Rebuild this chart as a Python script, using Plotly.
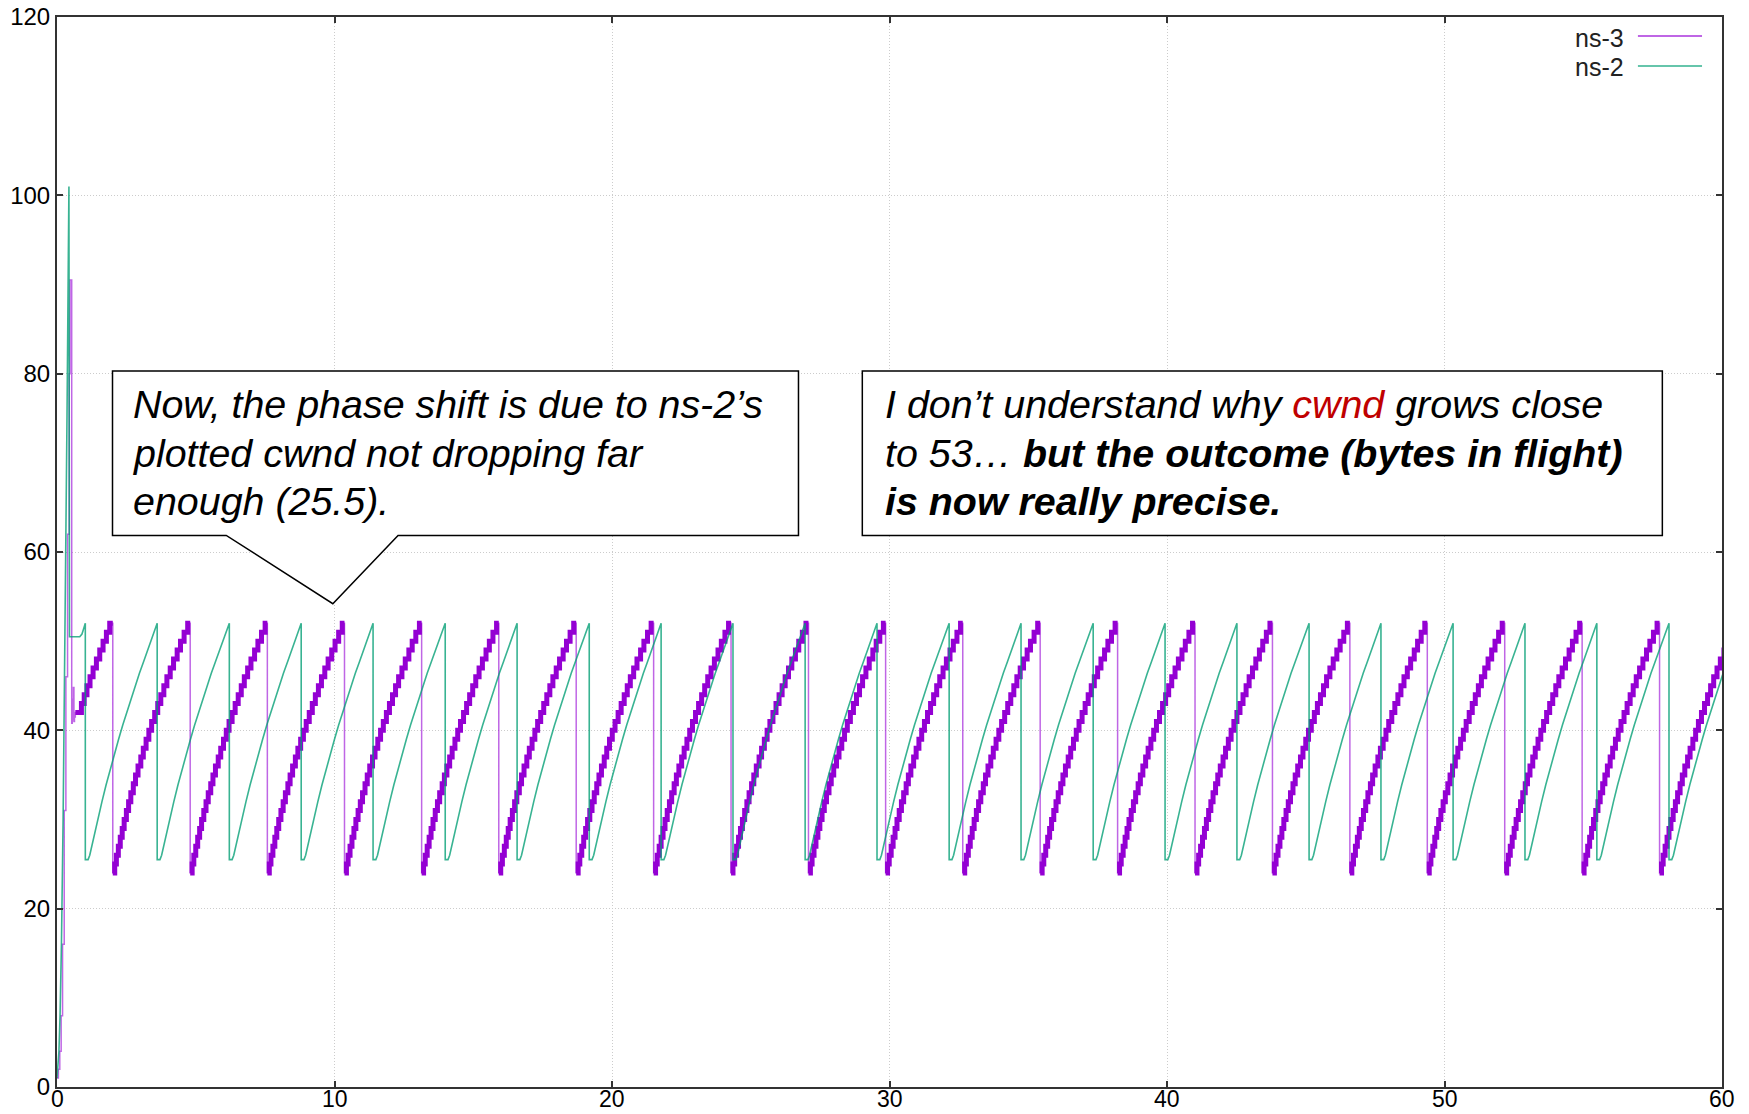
import plotly.graph_objects as go

# ---------------------------------------------------------------- axes
X_RANGE = [0, 60]
Y_RANGE = [0, 120]
X_TICKS = [0, 10, 20, 30, 40, 50, 60]
Y_TICKS = [0, 20, 40, 60, 80, 100, 120]

# ---------------------------------------------------------------- ns-3
# slow start, overshoot and first recovery (time s, cwnd segments)
ns3_start_t = [0.00, 0.05, 0.10, 0.15, 0.20, 0.26, 0.32, 0.38, 0.44, 0.47, 0.50,
               0.53, 0.55, 0.57, 0.59, 0.61, 0.63]
ns3_start_v = [1, 2, 4, 8, 16, 31, 46, 62, 80, 90.5, 90.5,
               40.8, 43.5, 41.2, 44.8, 41.0, 41.5]
# first congestion-avoidance staircase
ns3_first_t = [0.66, 0.88, 0.98, 1.08, 1.19, 1.30, 1.42, 1.54, 1.66, 1.78, 1.90]
ns3_first_v = [42, 43, 44, 45, 46, 47, 48, 49, 50, 51, 52]
# times at which cwnd is cut back
ns3_drop_t = [2.01, 4.80, 7.58, 10.36, 13.14, 15.92, 18.71, 21.50, 24.29, 27.08,
              29.86, 32.64, 35.43, 38.22, 41.01, 43.80, 46.59, 49.38, 52.17,
              54.96, 57.75]
# staircase after each cut: time since cut (s) and cwnd (segments)
ns3_step_t = [0.00, 0.07, 0.13, 0.20, 0.27, 0.34, 0.41, 0.49, 0.57, 0.65, 0.74,
              0.82, 0.91, 1.01, 1.10, 1.20, 1.30, 1.40, 1.51, 1.62, 1.73, 1.84,
              1.95, 2.07, 2.19, 2.32, 2.44, 2.57, 2.70]
ns3_step_v = [24, 25, 26, 27, 28, 29, 30, 31, 32, 33, 34, 35, 36, 37, 38, 39,
              40, 41, 42, 43, 44, 45, 46, 47, 48, 49, 50, 51, 52]
NS3_PEAK = 52

# ---------------------------------------------------------------- ns-2
ns2_start_t = [0.00, 0.03, 0.07, 0.11, 0.16, 0.22, 0.29, 0.36, 0.43, 0.45, 0.82,
               0.90, 0.96]
ns2_start_v = [1, 2, 4, 8, 16, 30, 50, 75, 101, 50.5, 50.5, 50.8, 51.4]
ns2_drop_t = [1.02, 3.61, 6.21, 8.80, 11.39, 13.99, 16.58, 19.18, 21.77, 24.36,
              26.96, 29.55, 32.15, 34.74, 37.34, 39.93, 42.52, 45.12, 47.71,
              50.31, 52.90, 55.49, 58.09]
ns2_ramp_t = [0.00, 0.10, 0.16, 0.30, 0.45, 0.60, 0.75, 0.90, 1.05, 1.20, 1.35,
              1.50, 1.65, 1.80, 1.95, 2.10, 2.25, 2.40, 2.55]
ns2_ramp_v = [25.5, 25.5, 26.0, 28.0, 30.0, 32.0, 33.9, 35.7, 37.4, 39.0, 40.6,
              42.1, 43.6, 45.0, 46.4, 47.7, 49.0, 50.3, 51.5]
NS2_PEAK = 52

# ---------------------------------------------------------------- build series
# ns-3 complete trace (thin) and staircase bodies (thick, broken at every cut)
ns3_t = list(ns3_start_t) + list(ns3_first_t)
ns3_v = list(ns3_start_v) + list(ns3_first_v)
body_t = list(ns3_first_t) + [ns3_drop_t[0], None]
body_v = list(ns3_first_v) + [NS3_PEAK, None]
for k, d in enumerate(ns3_drop_t):
    nxt = ns3_drop_t[k + 1] if k + 1 < len(ns3_drop_t) else None
    for dt, v in zip(ns3_step_t, ns3_step_v):
        t = d + dt
        if nxt is not None and t >= nxt:
            break
        ns3_t.append(t)
        ns3_v.append(v)
        body_t.append(t)
        body_v.append(v)
    if nxt is not None:
        body_t += [nxt, None]
        body_v += [NS3_PEAK, None]

# ns-2 trace
ns2_t = list(ns2_start_t)
ns2_v = list(ns2_start_v)
for d in ns2_drop_t:
    ns2_t.append(d)
    ns2_v.append(NS2_PEAK)
    for dt, v in zip(ns2_ramp_t, ns2_ramp_v):
        ns2_t.append(d + dt)
        ns2_v.append(v)

PURPLE = "#9400d3"
PURPLE_THIN = "rgba(148,0,211,0.6)"
GREEN = "rgba(0,158,115,0.78)"
FONT = "Liberation Sans"

fig = go.Figure()
fig.add_trace(go.Scatter(x=ns3_t, y=ns3_v, mode="lines", name="ns-3",
                         line=dict(color=PURPLE_THIN, width=1.5, shape="hv"),
                         showlegend=False, hoverinfo="skip"))
fig.add_trace(go.Scatter(x=body_t, y=body_v, mode="lines", name="ns-3",
                         line=dict(color=PURPLE, width=5, shape="hv"),
                         connectgaps=False, showlegend=False, hoverinfo="skip"))
fig.add_trace(go.Scatter(x=ns2_t, y=ns2_v, mode="lines", name="ns-2",
                         line=dict(color=GREEN, width=1.6),
                         showlegend=False, hoverinfo="skip"))

axis_style = dict(
    showgrid=True, gridcolor="#cccccc", gridwidth=1, griddash="1px,2px",
    showline=True, linecolor="#333333", linewidth=2, mirror="ticks",
    ticks="inside", ticklen=6, tickwidth=1.5, tickcolor="#333333",
    zeroline=False, automargin=False,
    tickfont=dict(family=FONT, size=24, color="#000000"),
)
# x tick labels are placed as text just under the frame (see below)
fig.update_xaxes(range=X_RANGE, tickvals=X_TICKS, showticklabels=False, **axis_style)
fig.update_yaxes(range=Y_RANGE, tickvals=Y_TICKS, ticktext=[str(v) for v in Y_TICKS],
                 **axis_style)

for v in X_TICKS:
    fig.add_annotation(x=v, y=-0.0250, xref="x", yref="paper", text=str(v),
                       showarrow=False, xanchor="center", yanchor="bottom",
                       font=dict(family=FONT, size=23, color="#000000"))

# ---------------------------------------------------------------- callouts
box_line = dict(color="black", width=1.5)
fig.add_shape(type="path", xref="x", yref="y", layer="above",
              path="M 2.0,80.3 L 26.72,80.3 L 26.72,61.86 L 12.29,61.86 "
                   "L 9.94,54.2 L 6.10,61.86 L 2.0,61.86 Z",
              fillcolor="white", line=box_line)
fig.add_shape(type="rect", xref="x", yref="y", layer="above",
              x0=29.02, x1=57.85, y0=61.86, y1=80.3,
              fillcolor="white", line=box_line)

note_font = dict(family=FONT, size=39.4, color="black")
left_lines = [
    "<i>Now, the phase shift is due to ns-2’s</i>",
    "<i>plotted cwnd not dropping far</i>",
    "<i>enough (25.5).</i>",
]
right_lines = [
    "<i>I don’t understand why <span style='color:#c00000'>cwnd</span> grows close</i>",
    "<i>to 53… <b>but the outcome (bytes in flight)</b></i>",
    "<i><b>is now really precise.</b></i>",
]
line_y = [76.6, 71.1, 65.7]
for txt, y in zip(left_lines, line_y):
    fig.add_annotation(x=2.68, y=y, xref="x", yref="y", text=txt, showarrow=False,
                       xanchor="left", yanchor="middle", font=note_font)
for txt, y in zip(right_lines, line_y):
    fig.add_annotation(x=29.75, y=y, xref="x", yref="y", text=txt, showarrow=False,
                       xanchor="left", yanchor="middle", font=note_font)

# ---------------------------------------------------------------- key (text, then sample line)
key_font = dict(family=FONT, size=25, color="#222222")
for label, color, ty, ly in [("ns-3", "rgba(148,0,211,0.6)", 0.9804, 0.9822),
                             ("ns-2", "rgba(0,158,115,0.6)", 0.9530, 0.9542)]:
    fig.add_annotation(x=0.9423, y=ty, xref="paper", yref="paper", text=label,
                       showarrow=False, xanchor="right", yanchor="middle", font=key_font)
    fig.add_shape(type="line", xref="paper", yref="paper", x0=0.9495, x1=0.988,
                  y0=ly, y1=ly, line=dict(color=color, width=2))

fig.update_layout(
    width=1749, height=1114,
    margin=dict(l=57, r=27, t=17, b=27),
    paper_bgcolor="white", plot_bgcolor="white",
    showlegend=False,
)

fig.write_html("out.html")
